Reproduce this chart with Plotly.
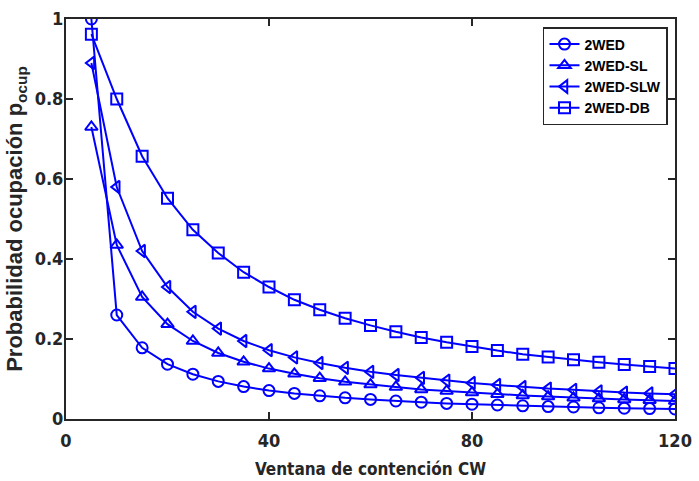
import plotly.graph_objects as go

cw = [5, 10, 15, 20, 25, 30, 35, 40, 45, 50, 55, 60, 65, 70, 75, 80, 85, 90, 95, 100, 105, 110, 115, 120]

p_2wed = [1.0, 0.26, 0.178, 0.137, 0.112, 0.094, 0.081, 0.071, 0.064, 0.058, 0.053, 0.049,
          0.045, 0.042, 0.039, 0.037, 0.035, 0.033, 0.031, 0.030, 0.028, 0.027, 0.026, 0.025]
p_sl = [0.73, 0.435, 0.305, 0.237, 0.195, 0.165, 0.143, 0.126, 0.113, 0.102, 0.093, 0.086,
        0.080, 0.074, 0.070, 0.066, 0.062, 0.059, 0.056, 0.053, 0.051, 0.049, 0.047, 0.045]
p_slw = [0.89, 0.58, 0.42, 0.33, 0.268, 0.226, 0.195, 0.172, 0.154, 0.140, 0.128, 0.118,
         0.110, 0.103, 0.096, 0.090, 0.085, 0.080, 0.076, 0.073, 0.069, 0.066, 0.064, 0.062]
p_db = [0.962, 0.80, 0.657, 0.552, 0.473, 0.415, 0.367, 0.330, 0.298, 0.273, 0.252, 0.234,
        0.218, 0.204, 0.192, 0.181, 0.171, 0.162, 0.155, 0.148, 0.142, 0.136, 0.131, 0.126]

names = ["2WED", "2WED-SL", "2WED-SLW", "2WED-DB"]
series = [p_2wed, p_sl, p_slw, p_db]
symbols = ["circle-open", "triangle-up-open", "triangle-left-open", "square-open"]

x_ticks = [0, 40, 80, 120]
y_ticks = [0, 0.2, 0.4, 0.6, 0.8, 1]
y_ticklabels = ["0", "0.2", "0.4", "0.6", "0.8", "1"]

fig = go.Figure()
for name, ys, sym in zip(names, series, symbols):
    fig.add_trace(go.Scatter(
        x=cw, y=ys, name=name, mode="lines+markers",
        line=dict(color="#0000ff", width=2),
        marker=dict(symbol=sym, size=11, color="#0000ff", line=dict(width=2, color="#0000ff")),
    ))

narrow = "DejaVu Sans Condensed, Liberation Sans Narrow, Liberation Sans"
axis_common = dict(
    showline=True, linecolor="#262626", linewidth=2, mirror="ticks",
    ticks="inside", ticklen=7, tickwidth=2, tickcolor="#262626",
    showgrid=False, zeroline=False, automargin=False,
    tickfont=dict(family=narrow, size=18, color="#262626", weight="bold"),
)

fig.update_layout(
    width=699, height=481,
    margin=dict(l=66, r=24, t=19, b=62),
    paper_bgcolor="white", plot_bgcolor="white",
    xaxis=dict(range=[0, 120], tickvals=x_ticks, ticktext=[str(v) for v in x_ticks],
               ticklabelstandoff=4,
               title=dict(text="Ventana de contención CW", standoff=14,
                          font=dict(family=narrow, size=17, color="#262626", weight="bold")),
               **axis_common),
    yaxis=dict(range=[0, 1], tickvals=y_ticks, ticktext=y_ticklabels,
               ticklabelstandoff=-3,
               title=dict(text="Probabilidad ocupación p<sub>ocup</sub>", standoff=6,
                          font=dict(family="Liberation Sans, Arial", size=22, color="#262626",
                                    weight="bold")),
               **axis_common),
    legend=dict(x=0.9885, y=0.98, xanchor="right", yanchor="top",
                bgcolor="white", bordercolor="#262626", borderwidth=1.5,
                font=dict(family="Liberation Sans, Arial", size=14, color="#000000", weight="bold"),
                itemwidth=30, tracegroupgap=0),
    showlegend=True,
)

fig.write_html("out.html")
